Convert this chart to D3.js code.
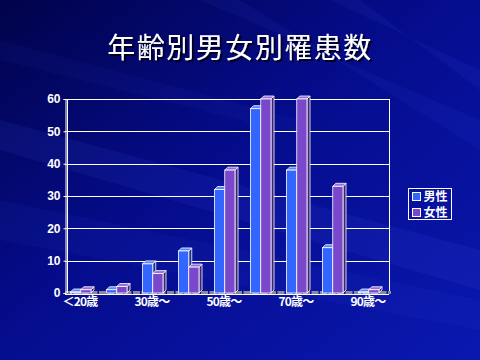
<!DOCTYPE html>
<html>
<head>
<meta charset="utf-8">
<script src="https://cdn.jsdelivr.net/npm/d3@7"></script>
<style>
  html, body { margin: 0; padding: 0; background: #020660; }
  svg { display: block; }
</style>
</head>
<body>
<svg id="chart" width="480" height="360"></svg>
<script>
// age groups, only every other one gets a label
var categories = ['<20', '20', '30', '40', '50', '60', '70', '80', '90'];
var tickLabels = ['＜20歳', '', '30歳～', '', '50歳～', '', '70歳～', '', '90歳～'];
var seriesNames = ['男性', '女性'];
var male = [0, 1, 9, 13, 32, 57, 38, 14, 0];
var female = [1, 2, 6, 8, 38, 60, 60, 33, 1];
var yTicks = [0, 10, 20, 30, 40, 50, 60];

var svg = d3.select('#chart');
var W = 480, H = 360;

// background
var defs = svg.append('defs');
var bg = defs.append('linearGradient').attr('id', 'bg')
  .attr('x1', '0').attr('y1', '0').attr('x2', '1').attr('y2', '1');
bg.append('stop').attr('offset', '0%').attr('stop-color', '#01034a');
bg.append('stop').attr('offset', '45%').attr('stop-color', '#050c8c');
bg.append('stop').attr('offset', '100%').attr('stop-color', '#0a18b0');
svg.append('rect').attr('width', W).attr('height', H).attr('fill', 'url(#bg)');

var shadow = defs.append('filter').attr('id', 'shadow')
  .attr('x', '-10%').attr('y', '-20%').attr('width', '120%').attr('height', '140%');
shadow.append('feDropShadow')
  .attr('dx', 2).attr('dy', 2).attr('stdDeviation', 0)
  .attr('flood-color', '#000020');

// soft diagonal streaks
var streaks = [
  [[0, 120], [480, 250], [480, 290], [0, 150]],
  [[200, 0], [480, 120], [480, 150], [240, 0]],
  [[0, 200], [480, 300], [480, 330], [0, 240]],
  [[330, 0], [480, 70], [480, 90], [360, 0]],
  [[0, 40], [300, 120], [300, 135], [0, 60]]
];
svg.append('g').selectAll('path').data(streaks).join('path')
  .attr('d', function(d) { return 'M' + d.join('L') + 'Z'; })
  .attr('fill', '#4a66ff')
  .attr('opacity', function(d, i) { return [0.09, 0.07, 0.06, 0.08, 0.05][i]; });

// title
svg.append('text')
  .attr('x', 240).attr('y', 58)
  .attr('text-anchor', 'middle')
  .attr('font-family', '"Noto Sans CJK JP", sans-serif')
  .attr('font-size', 28)
  .attr('letter-spacing', 1.5)
  .attr('fill', '#ffffff')
  .attr('filter', 'url(#shadow)')
  .text('年齢別男女別罹患数');

var plotLeft = 65, plotRight = 389, plotTop = 99, plotBottom = 293;
var depth = 3;

var x0 = d3.scaleBand().domain(categories).range([plotLeft, plotRight]);
var x1 = d3.scaleBand().domain(seriesNames).range([5.5, 26]);
var y = d3.scaleLinear().domain([0, 60]).range([plotBottom, plotTop]);

var colors = {
  '男性': { front: '#3366ff', top: '#5a85ff', side: '#1c2f8c' },
  '女性': { front: '#7a48cc', top: '#9470dc', side: '#3a2470' }
};

// grid
var grid = svg.append('g');
grid.selectAll('line').data(yTicks.slice(1)).join('line')
  .attr('x1', plotLeft).attr('x2', plotRight)
  .attr('y1', function(d) { return Math.round(y(d)) + 0.5; })
  .attr('y2', function(d) { return Math.round(y(d)) + 0.5; })
  .attr('stroke', '#ffffff').attr('stroke-width', 1);
grid.append('line')
  .attr('x1', plotRight + 0.5).attr('x2', plotRight + 0.5)
  .attr('y1', plotTop).attr('y2', plotBottom)
  .attr('stroke', '#ffffff');

// floor
svg.append('line')
  .attr('x1', plotLeft).attr('x2', plotRight + 2)
  .attr('y1', plotBottom - 0.5).attr('y2', plotBottom - 0.5)
  .attr('stroke', '#8a8a9a').attr('stroke-width', 3)
  .attr('stroke-dasharray', '7,1.5');
svg.append('line')
  .attr('x1', plotLeft).attr('x2', plotRight)
  .attr('y1', plotBottom + 1.5).attr('y2', plotBottom + 1.5)
  .attr('stroke', '#ffffff');

// y axis
var yAxis = svg.append('g')
  .attr('transform', 'translate(' + (plotLeft + 0.5) + ',0)')
  .call(d3.axisLeft(y).tickValues(yTicks).tickSize(2).tickPadding(3));
yAxis.select('.domain').attr('stroke', '#ffffff');
yAxis.selectAll('line').attr('stroke', '#ffffff');
yAxis.selectAll('text')
  .attr('fill', '#ffffff')
  .attr('font-family', '"Liberation Sans Narrow", "Liberation Sans", sans-serif')
  .attr('font-weight', 'bold')
  .attr('font-size', 12);
svg.append('line')
  .attr('x1', plotLeft + 2.5).attr('x2', plotLeft + 2.5)
  .attr('y1', plotTop).attr('y2', plotBottom)
  .attr('stroke', '#ffffff');

// x axis
var xAxis = svg.append('g')
  .attr('transform', 'translate(-3,' + (plotBottom + 1) + ')')
  .call(d3.axisBottom(x0).tickSize(0).tickPadding(3)
    .tickFormat(function(d, i) { return tickLabels[i]; }));
xAxis.select('.domain').remove();
xAxis.selectAll('text')
  .attr('fill', '#ffffff')
  .attr('font-family', '"Noto Sans CJK JP", sans-serif')
  .attr('font-weight', 'bold')
  .attr('font-size', 12)
  .attr('letter-spacing', -0.8);

// bars
var rows = [];
categories.forEach(function(c, i) {
  rows.push({ cat: c, key: '男性', value: male[i] });
  rows.push({ cat: c, key: '女性', value: female[i] });
});

var bars = svg.append('g').selectAll('g').data(rows).join('g');
bars.each(function(d) {
  var g = d3.select(this);
  var bx = x0(d.cat) + x1(d.key);
  var bw = x1.bandwidth();
  var by = Math.min(y(d.value), plotBottom - 1);
  var c = colors[d.key];
  g.append('path')
    .attr('d', 'M' + (bx + bw) + ',' + by + 'L' + (bx + bw + depth) + ',' + (by - depth) +
      'L' + (bx + bw + depth) + ',' + (plotBottom - depth) + 'L' + (bx + bw) + ',' + plotBottom + 'Z')
    .attr('fill', c.side).attr('stroke', '#ffffff').attr('stroke-width', 0.8);
  g.append('path')
    .attr('d', 'M' + bx + ',' + by + 'L' + (bx + depth) + ',' + (by - depth) +
      'L' + (bx + bw + depth) + ',' + (by - depth) + 'L' + (bx + bw) + ',' + by + 'Z')
    .attr('fill', c.top).attr('stroke', '#ffffff').attr('stroke-width', 0.8);
  g.append('rect')
    .attr('x', bx).attr('y', by)
    .attr('width', bw).attr('height', plotBottom - by)
    .attr('fill', c.front).attr('stroke', '#ffffff').attr('stroke-width', 0.8);
});

// legend
var legend = svg.append('g').attr('transform', 'translate(408.5,188.5)');
legend.append('rect')
  .attr('width', 43).attr('height', 31)
  .attr('fill', 'none').attr('stroke', '#ffffff').attr('stroke-width', 1);
var items = legend.selectAll('g.item').data(seriesNames).join('g')
  .attr('class', 'item')
  .attr('transform', function(d, i) { return 'translate(4,' + (4 + i * 16) + ')'; });
items.append('rect')
  .attr('width', 8).attr('height', 8)
  .attr('fill', function(d) { return colors[d].front; })
  .attr('stroke', '#ffffff');
items.append('text')
  .attr('x', 11).attr('y', 8.5)
  .attr('fill', '#ffffff')
  .attr('font-family', '"Noto Sans CJK JP", sans-serif')
  .attr('font-weight', 'bold')
  .attr('font-size', 12)
  .text(function(d) { return d; });
</script>
</body>
</html>
